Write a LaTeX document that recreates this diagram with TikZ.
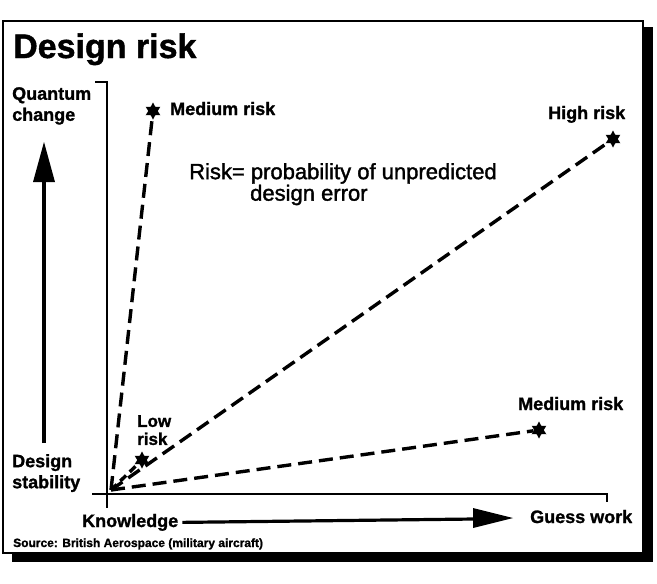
\documentclass[tikz,border=0pt]{standalone}
\usepackage{fontspec}
\setmainfont{Liberation Sans}
\newfontfamily\heavyfont{Liberation Sans Bold}[FakeBold=1.2]
\newfontfamily\medfont{Liberation Sans}[FakeBold=1.6]
\usetikzlibrary{shapes.geometric}
\begin{document}
\begin{tikzpicture}[x=1pt,y=-1pt,
  lbl/.style={font=\fontsize{18}{21}\selectfont\heavyfont, inner sep=0pt, align=left},
  riskstar/.style={star, star points=6, star point ratio=1.8, fill=black, minimum size=17pt, inner sep=0pt},
  riskline/.style={line width=3.4pt, dash pattern=on 14pt off 7pt},
  axisline/.style={line width=2.2pt},
  bigarrow/.style={line width=3.8pt}]
\useasboundingbox (0,0) rectangle (657,584);
\fill[white] (0,0) rectangle (657,584);

% frame with its drop shadow
\fill[black] (643,27) rectangle (653,562);
\fill[black] (12,552) rectangle (653,562);
\draw[line width=2pt] (3,21) rectangle (643,553);

% title
\node[anchor=base west, inner sep=0pt, font=\fontsize{34}{34}\selectfont\heavyfont] (title) at (13,58) {Design risk};

% axes
\coordinate (ytop) at (107,82);
\coordinate (ytick) at (95,82);
\coordinate (ybot) at (107,508);
\coordinate (xleft) at (92,494);
\coordinate (xright) at (607,494);
\coordinate (xtick) at (607,502);
\draw[axisline] (ytick) -- (ytop) -- (ybot);
\draw[axisline] (xleft) -- (xright) -- (xtick);

% vertical axis labels and arrow
\node[lbl, anchor=north west] (quantum) at (12,87) {Quantum\\change};
\node[lbl, anchor=north west] (stability) at (12,454) {Design\\stability};
\coordinate (uptail) at (44,443);
\coordinate (uphead) at (44,142);
\draw[bigarrow] (uptail) -- (44,178);
\fill (uphead) -- (33,182) -- (55,182) -- cycle;

% horizontal axis labels and arrow
\node[lbl, anchor=base west] (knowledge) at (82,527) {Knowledge};
\node[lbl, anchor=base west] (guess) at (530,523) {Guess work};
\draw[line width=3.2pt] (knowledge.east) ++(4pt,0) -- (475,519);
\fill (513,518) -- (473,508) -- (473,528) -- cycle;

% risk end points
\coordinate (origin) at (111,490);
\node[riskstar] (medtop) at (153,111) {};
\node[riskstar] (high) at (613,139) {};
\node[riskstar] (medlow) at (539,430) {};
\node[riskstar] (low) at (142,460) {};

\draw[riskline] (origin) -- (medtop);
\draw[riskline] (origin) -- (high);
\draw[riskline] (origin) -- (medlow);
\draw[riskline, dash pattern=on 8pt off 5pt] (origin) -- (low);

% risk labels
\node[lbl, anchor=base west] (medtoplbl) at (170,115) {Medium risk};
\node[lbl, anchor=base west] (highlbl) at (548,119) {High risk};
\node[lbl, anchor=base west] (medlowlbl) at (518,410) {Medium risk};
\node[lbl, anchor=north west, font=\fontsize{17}{18}\selectfont\heavyfont] (lowlbl) at (137,415) {Low\\risk};

% definition
\node[inner sep=0pt, anchor=north west, align=left, font=\fontsize{22}{19}\selectfont\medfont] (defn) at (189,163)
  {Risk= probability of unpredicted\\\hspace*{61pt}design error};

% source line
\node[anchor=base west, inner sep=0pt, font=\fontsize{12}{12}\selectfont\heavyfont] (source) at (13,547) {Source: British Aerospace (military aircraft)};
\end{tikzpicture}
\end{document}
